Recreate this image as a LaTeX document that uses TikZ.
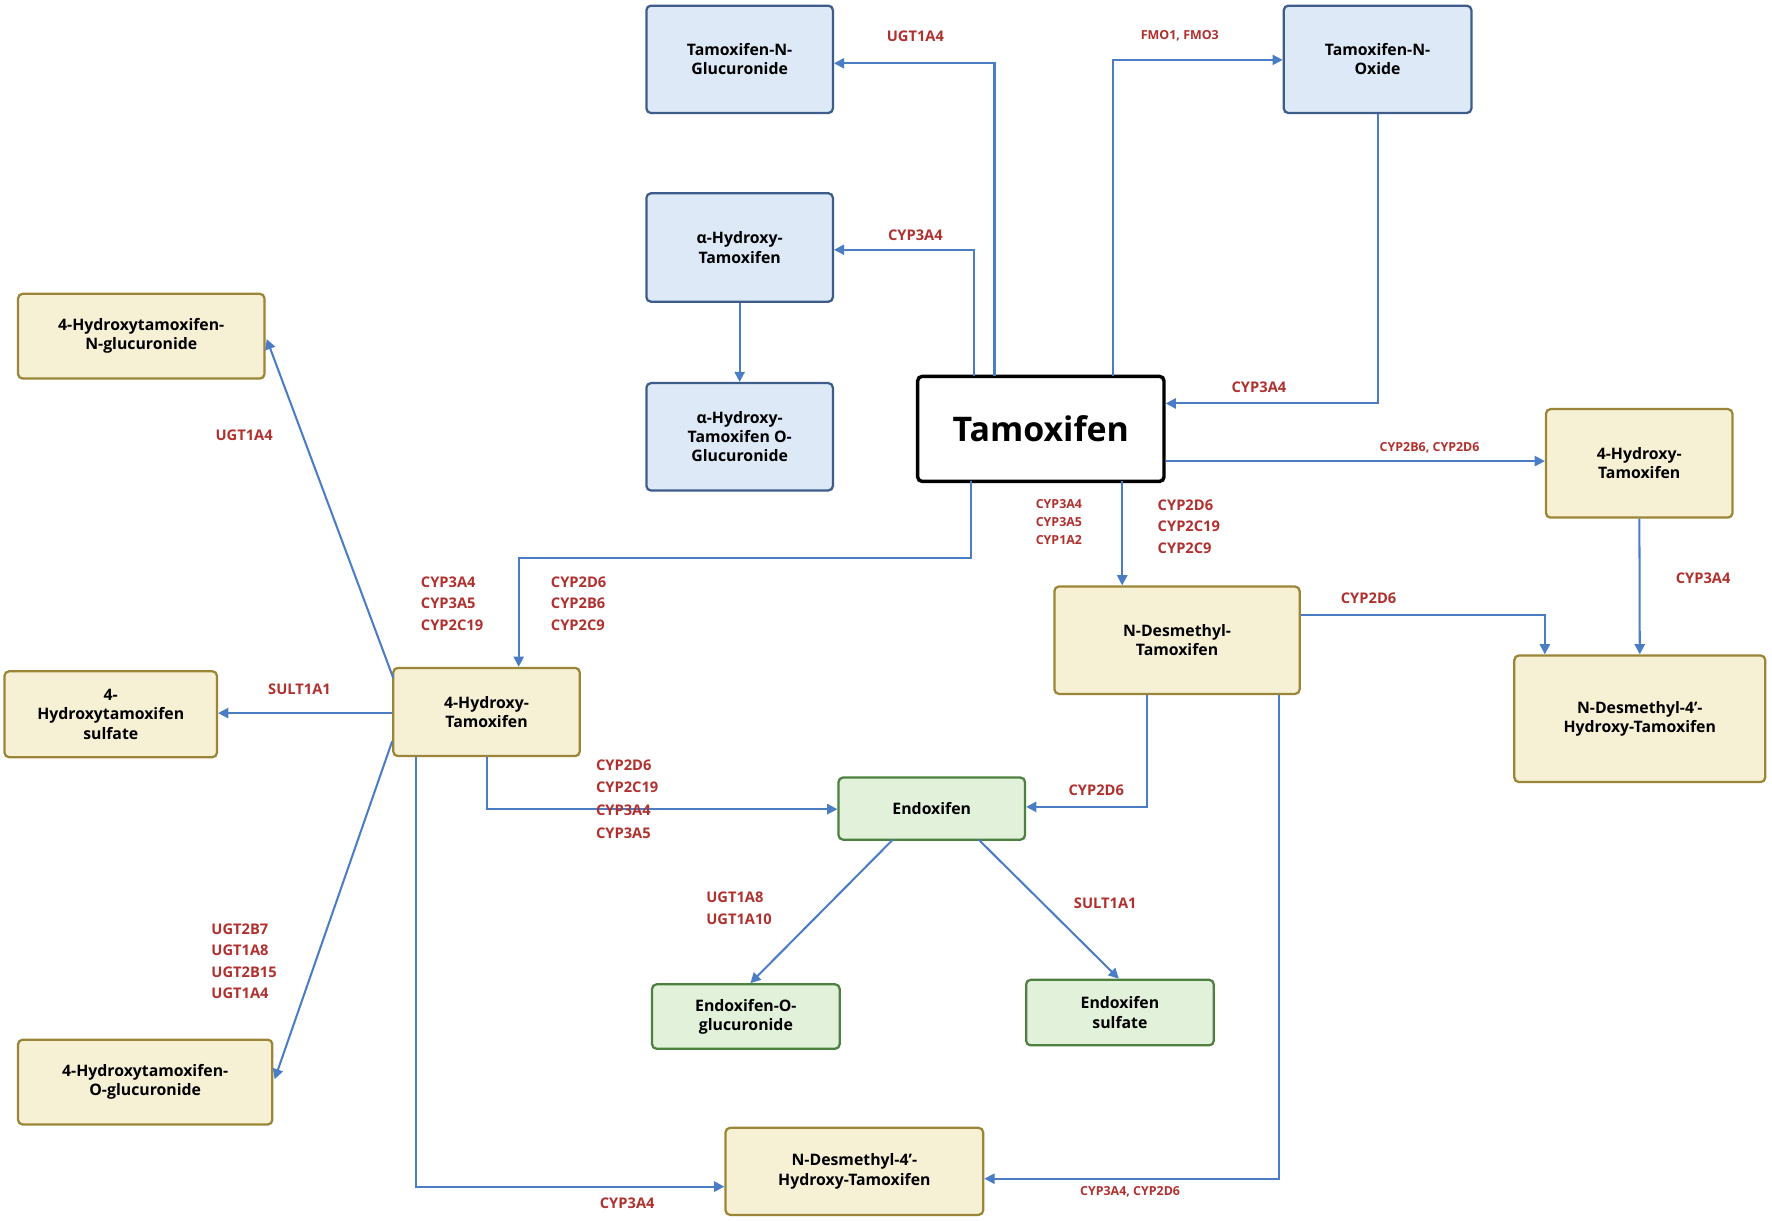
\documentclass[tikz,border=0pt]{standalone}
\usepackage{fontspec}
\setmainfont{Open Sans}
\usetikzlibrary{arrows.meta}
\definecolor{bfill}{HTML}{DDE9F7}\definecolor{bdraw}{HTML}{3E5C8A}
\definecolor{yfill}{HTML}{F6F1D5}\definecolor{ydraw}{HTML}{9A8636}
\definecolor{gfill}{HTML}{E2F1DA}\definecolor{gdraw}{HTML}{4E8040}
\definecolor{arr}{HTML}{4A7DC6}\definecolor{lab}{HTML}{B0302E}
\begin{document}
\begin{tikzpicture}[x=1pt,y=-1pt,
 box/.style={rounded corners=4pt,line width=2pt,align=center,font=\fontsize{14}{17}\selectfont\bfseries,inner sep=2pt},
 bb/.style={box,fill=bfill,draw=bdraw},
 yb/.style={box,fill=yfill,draw=ydraw},
 gb/.style={box,fill=gfill,draw=gdraw},
 a/.style={draw=arr,line width=1.8pt,-{Triangle[length=9pt,width=9pt]}},
 l/.style={text=lab,font=\fontsize{13}{16}\selectfont\bfseries,inner sep=0pt,align=left},
 ls/.style={l,font=\fontsize{11}{14}\selectfont\bfseries}]
\useasboundingbox (0,0) rectangle (1568,1080);
\newcommand\bx[6]{\node[#1,minimum width=#4-#2,minimum height=#5-#3] (#6) at ({(#2+#4)/2},{(#3+#5)/2})}
\bx{bb}{572}{5}{737}{100}{tng}{Tamoxifen-N-\\Glucuronide};
\bx{bb}{1136}{5}{1302}{100}{tno}{Tamoxifen-N-\\Oxide};
\bx{bb}{572}{171}{737}{267}{aht}{α-Hydroxy-\\Tamoxifen};
\bx{bb}{572}{339}{737}{434}{ahtg}{α-Hydroxy-\\Tamoxifen O-\\Glucuronide};
\node[box,draw=black,line width=3pt,fill=white,minimum width=218,minimum height=93,font=\fontsize{30}{34}\selectfont\bfseries] (tam) at (921,379.5) {Tamoxifen};
\bx{yb}{16}{260}{234}{335}{hng}{4-Hydroxytamoxifen-\\N-glucuronide};
\bx{yb}{4}{594}{192}{670}{hs}{4-\\Hydroxytamoxifen\\sulfate};
\bx{yb}{348}{591}{513}{669}{ht}{4-Hydroxy-\\Tamoxifen};
\bx{yb}{16}{920}{241}{995}{hog}{4-Hydroxytamoxifen-\\O-glucuronide};
\bx{yb}{1368}{362}{1533}{458}{htr}{4-Hydroxy-\\Tamoxifen};
\bx{yb}{933}{519}{1150}{614}{ndt}{N-Desmethyl-\\Tamoxifen};
\bx{yb}{1340}{580}{1562}{692}{ndr}{N-Desmethyl-4'-\\Hydroxy-Tamoxifen};
\bx{yb}{642}{998}{870}{1075}{ndb}{N-Desmethyl-4'-\\Hydroxy-Tamoxifen};
\bx{gb}{742}{688}{907}{743}{end}{Endoxifen};
\bx{gb}{577}{871}{743}{928}{eog}{Endoxifen-O-\\glucuronide};
\bx{gb}{908}{867}{1074}{925}{es}{Endoxifen\\sulfate};
% arrows
\draw[a] (880,333) |- (tng.east|-0,56);
\draw[a] (985,333) |- (tno.west|-0,53);
\draw[a] (862,333) |- (aht.east|-0,221);
\draw[a] (tno.south-|1219,0) |- (tam.east|-0,357);
\draw[a] (aht) -- (ahtg);
\draw[a] (tam.east|-0,408) -- (htr.west|-0,408);
\draw[a] (993,426) -- (ndt.north-|993,0);
\draw[a] (859,426) |- (459,494) -- (ht.north-|459,0);
\draw[a] (htr) -- (ndr.north-|1451,0);
\draw[a] (ndt.east|-0,544) -| (ndr.north-|1367,0);
\draw[a] (ndt.south-|1015,0) |- (end.east|-0,714);
\draw[a] (ht.south-|431,0) |- (end.west|-0,716);
\draw[a] (348,600) -- (236,300);
\draw[a] (ht.west|-0,631) -- (hs.east|-0,631);
\draw[a] (347,656) -- (243,955);
\draw[a] (368,670) |- (ndb.west|-0,1050);
\draw[a] (ndt.south-|1132,0) |- (ndb.east|-0,1043);
\draw[a] (790,743) -- (664,870);
\draw[a] (866,743) -- (990,866);
% labels
\node[l] at (810,32) {UGT1A4};
\node[ls] at (1044,32) {FMO1, FMO3};
\node[l] at (810,208) {CYP3A4};
\node[l] at (1114,343) {CYP3A4};
\node[ls] at (1265,396) {CYP2B6, CYP2D6};
\node[ls,anchor=north] at (937,442) {CYP3A4\\[2pt]CYP3A5\\[2pt]CYP1A2};
\node[l,anchor=north] at (1052,442) {CYP2D6\\[3pt]CYP2C19\\[3pt]CYP2C9};
\node[l,anchor=north] at (400,510) {CYP3A4\\[3pt]CYP3A5\\[3pt]CYP2C19};
\node[l,anchor=north] at (512,510) {CYP2D6\\[3pt]CYP2B6\\[3pt]CYP2C9};
\node[l] at (1507,512) {CYP3A4};
\node[l] at (1211,529) {CYP2D6};
\node[l] at (970,699) {CYP2D6};
\node[l,anchor=north] at (555,672) {CYP2D6\\[4pt]CYP2C19\\[4pt]CYP3A4\\[4pt]CYP3A5};
\node[l] at (216,385) {UGT1A4};
\node[l] at (265,610) {SULT1A1};
\node[l,anchor=north] at (216,817) {UGT2B7\\[3pt]UGT1A8\\[3pt]UGT2B15\\[3pt]UGT1A4};
\node[l] at (555,1065) {CYP3A4};
\node[ls] at (1000,1055) {CYP3A4, CYP2D6};
\node[l,anchor=north] at (654,789) {UGT1A8\\[3pt]UGT1A10};
\node[l] at (978,799) {SULT1A1};
\end{tikzpicture}
\end{document}
